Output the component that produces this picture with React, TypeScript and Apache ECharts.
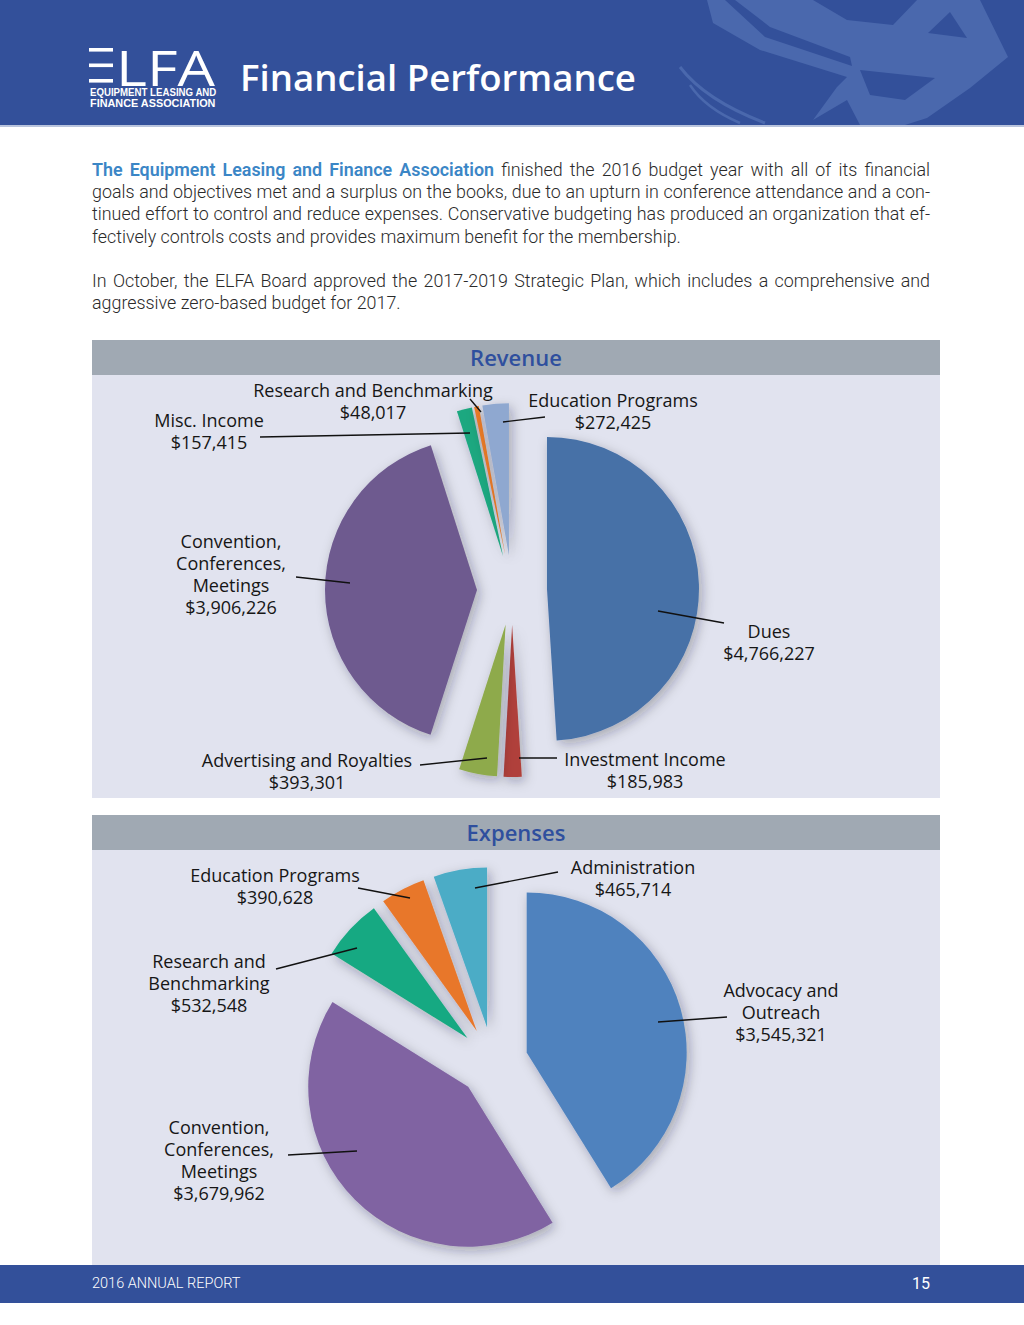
import React, { useEffect, useRef } from "react";
import * as echarts from "echarts";

const W = 1024;
const H = 1325;

// ---------- Revenue data ----------
const revenueCategories = [
  "Dues",
  "Investment Income",
  "Advertising and Royalties",
  "Convention, Conferences, Meetings",
  "Misc. Income",
  "Research and Benchmarking",
  "Education Programs",
];
const revenueLabelNames = [
  "Dues",
  "Investment Income",
  "Advertising and Royalties",
  "Convention,\nConferences,\nMeetings",
  "Misc. Income",
  "Research and Benchmarking",
  "Education Programs",
];
const revenueValues = [4766227, 185983, 393301, 3906226, 157415, 48017, 272425];
const revenueColors = ["#4771a7", "#b0403a", "#8eaa4c", "#6e5a8f", "#1ca880", "#e87a28", "#8fa8d0"];

// ---------- Expenses data ----------
const expenseCategories = [
  "Advocacy and Outreach",
  "Convention, Conferences, Meetings",
  "Research and Benchmarking",
  "Education Programs",
  "Administration",
];
const expenseLabelNames = [
  "Advocacy and\nOutreach",
  "Convention,\nConferences,\nMeetings",
  "Research and\nBenchmarking",
  "Education Programs",
  "Administration",
];
const expenseValues = [3545321, 3679962, 532548, 390628, 465714];
const expenseColors = ["#5082be", "#8064a2", "#19a982", "#e8772a", "#4bacc6"];

// ---------- Label placement (layout only) ----------
const revenueLabelAt = [[769, 642], [645, 770], [307, 771], [231, 574], [209, 431], [373, 401], [613, 411]];
const revenueLeaders = [
  [[658, 611], [724, 623]],
  [[519, 758], [557, 758]],
  [[487, 758], [420, 765]],
  [[350, 583], [296, 577]],
  [[470, 433], [260, 437]],
  [[481, 412], [470, 399]],
  [[503, 422], [545, 417]],
];
const expenseLabelAt = [[781, 1012], [219, 1160], [209, 983], [275, 886], [633, 878]];
const expenseLeaders = [
  [[658, 1022], [727, 1017]],
  [[357, 1151], [288, 1155]],
  [[357, 948], [276, 969]],
  [[410, 898], [358, 888]],
  [[475, 888], [558, 872]],
];

// ---------- Page text ----------
const introBold = "The Equipment Leasing and Finance Association";
const paragraphLines = [
  { text: "finished the 2016 budget year with all of its financial", justify: true, bold: true },
  { text: "goals and objectives met and a surplus on the books, due to an upturn in conference attendance and a con-", justify: true, bold: false },
  { text: "tinued effort to control and reduce expenses. Conservative budgeting has produced an organization that ef-", justify: true, bold: false },
  { text: "fectively controls costs and provides maximum benefit for the membership.", justify: false, bold: false },
  { text: "In October, the ELFA Board approved the 2017-2019 Strategic Plan, which includes a comprehensive and", justify: true, bold: false },
  { text: "aggressive zero-based budget for 2017.", justify: false, bold: false },
];
const paragraphY = [169, 191, 213, 236, 280, 302];

const fmt = (v: number) => "$" + v.toLocaleString("en-US");

function buildOption() {
  const canvas = document.createElement("canvas");
  const ctx = canvas.getContext("2d")!;
  const measure = (t: string, font: string) => {
    ctx.font = font;
    return ctx.measureText(t).width;
  };

  const headerBg = "#33509a";
  const swoosh = "#4a68ad";
  const graphic: any[] = [];
  const txt = (x: number, y: number, text: string, font: string, fill: string, align = "left", extra: any = {}) => ({
    type: "text",
    x,
    y,
    ...extra,
    style: { text, font, fill, align, verticalAlign: "middle", textAlign: align, textVerticalAlign: "middle", ...(extra.style || {}) },
  });

  // Header band
  graphic.push({ type: "rect", shape: { x: 0, y: 0, width: W, height: 125 }, style: { fill: headerBg } });
  graphic.push({
    type: "polygon",
    shape: {
      points: [[707, 0], [813, 0], [847, 20], [893, 25], [917, 0], [980, 0], [1008, 57], [970, 88], [927, 118], [905, 125], [860, 125], [847, 100], [813, 120], [837, 87], [847, 77], [760, 50], [713, 23]],
    },
    style: { fill: swoosh },
  });
  graphic.push({ type: "polygon", shape: { points: [[725, 0], [735, 0], [770, 27], [850, 57], [852, 66], [765, 37]] }, style: { fill: headerBg } });
  graphic.push({ type: "polygon", shape: { points: [[928, 33], [950, 12], [967, 38]] }, style: { fill: headerBg } });
  graphic.push({ type: "polygon", shape: { points: [[860, 70], [935, 78], [905, 100], [870, 95]] }, style: { fill: headerBg } });
  graphic.push({ type: "bezierCurve", shape: { x1: 680, y1: 67, x2: 765, y2: 123, cpx1: 705, cpy1: 100 }, style: { stroke: swoosh, lineWidth: 3, fill: null } });
  graphic.push({ type: "bezierCurve", shape: { x1: 690, y1: 85, x2: 740, y2: 123, cpx1: 705, cpy1: 108 }, style: { stroke: swoosh, lineWidth: 2.5, fill: null } });
  graphic.push({ type: "rect", shape: { x: 0, y: 125, width: W, height: 2 }, style: { fill: "#b9c4dd" } });

  // Logo
  [48, 63.5, 79].forEach((y) => {
    graphic.push({ type: "rect", shape: { x: 89, y, width: 24, height: 3.6 }, style: { fill: "#ffffff" } });
  });
  const lfaFont = "400 50px 'Open Sans'";
  graphic.push(txt(116, 66, "LFA", lfaFont, "#ffffff", "left", { scaleX: 99 / measure("LFA", lfaFont) }));
  const subFont = "bold 10.5px 'Liberation Sans'";
  ["EQUIPMENT LEASING AND", "FINANCE ASSOCIATION"].forEach((t, i) => {
    const target = i === 0 ? 127 : 126;
    graphic.push(txt(90, 92 + i * 11, t, subFont, "#ffffff", "left", { scaleX: target / measure(t, subFont) }));
  });
  const titleText = "Financial Performance";
  const titleFs = (38 * 396) / measure(titleText, "600 38px 'Open Sans'");
  graphic.push(txt(240, 77, titleText, `600 ${titleFs.toFixed(1)}px 'Open Sans'`, "#ffffff"));

  // Paragraphs (justified, word by word)
  const family = "Roboto";
  const left = 92;
  const right = 930;
  const lineW = right - left;
  let fs = 18;
  const tokenize = (i: number) => {
    const l = paragraphLines[i];
    const toks: { w: string; b: boolean }[] = [];
    if (l.bold) introBold.split(" ").forEach((w) => toks.push({ w, b: true }));
    l.text.split(" ").forEach((w) => toks.push({ w, b: false }));
    return toks;
  };
  const fontOf = (b: boolean, size: number) => (b ? `600 ${size}px ${family}` : `300 ${size}px ${family}`);
  let maxW = 0;
  paragraphLines.forEach((_, i) => {
    const toks = tokenize(i);
    const sp = measure(" ", fontOf(false, fs));
    const w = toks.reduce((s, t) => s + measure(t.w, fontOf(t.b, fs)), 0) + sp * (toks.length - 1);
    maxW = Math.max(maxW, w);
  });
  if (maxW > lineW - 4) fs = (fs * (lineW - 4)) / maxW;
  paragraphLines.forEach((l, i) => {
    const toks = tokenize(i);
    const widths = toks.map((t) => measure(t.w, fontOf(t.b, fs)));
    const sum = widths.reduce((a, b) => a + b, 0);
    const gap = l.justify ? (lineW - sum) / (toks.length - 1) : measure(" ", fontOf(false, fs));
    let x = left;
    toks.forEach((t, k) => {
      graphic.push(txt(x, paragraphY[i], t.w, fontOf(t.b, fs), t.b ? "#3b86c6" : "#2a2a2a"));
      x += widths[k] + gap;
    });
  });

  // Panels
  const panelHead = "#a0a9b3";
  const panelBody = "#e1e3ef";
  const panel = (top: number, bodyH: number, title: string) => {
    graphic.push({ type: "rect", shape: { x: 92, y: top, width: 848, height: 35 }, style: { fill: panelHead } });
    graphic.push({ type: "rect", shape: { x: 92, y: top + 35, width: 848, height: bodyH }, style: { fill: panelBody } });
    graphic.push(txt(516, top + 16.5, title, "600 22px 'Open Sans'", "#2f4f9e", "center"));
  };
  panel(340, 423, "Revenue");
  panel(815, 415, "Expenses");

  // Footer
  graphic.push({ type: "rect", shape: { x: 0, y: 1265, width: W, height: 38 }, style: { fill: headerBg } });
  const footText = "2016 ANNUAL REPORT";
  const footFs = (15 * 148) / measure(footText, `300 15px ${family}`);
  graphic.push(txt(92, 1283, footText, `300 ${footFs.toFixed(1)}px ${family}`, "#ffffff"));
  graphic.push(txt(930, 1283, "15", `400 16px ${family}`, "#ffffff", "right"));

  // Slice labels and leader lines (text built from the data arrays)
  const labelFont = "400 18px 'Open Sans'";
  const addLabels = (labels: string[], values: number[], at: number[][], leaders: number[][][]) => {
    labels.forEach((name, i) => {
      const [a, b] = leaders[i];
      graphic.push({
        type: "line",
        z: 10,
        shape: { x1: a[0], y1: a[1], x2: b[0], y2: b[1] },
        style: { stroke: "#111111", lineWidth: 1.4 },
      });
      graphic.push(
        txt(at[i][0], at[i][1], `${name}\n${fmt(values[i])}`, labelFont, "#161616", "center", {
          z: 10,
          style: { lineHeight: 22 },
        })
      );
    });
  };
  addLabels(revenueLabelNames, revenueValues, revenueLabelAt, revenueLeaders);
  addLabels(expenseLabelNames, expenseValues, expenseLabelAt, expenseLeaders);

  const pieSeries = (name: string, cats: string[], values: number[], colors: string[], center: number[], radius: number) => ({
    type: "pie",
    name,
    center,
    radius,
    startAngle: 90,
    clockwise: true,
    selectedMode: "multiple",
    selectedOffset: 35,
    avoidLabelOverlap: false,
    emphasis: { disabled: true },
    z: 3,
    itemStyle: { shadowBlur: 12, shadowColor: "rgba(20,20,40,0.3)", shadowOffsetX: 3, shadowOffsetY: 4 },
    label: { show: false },
    labelLine: { show: false },
    data: cats.map((c, i) => ({ name: c, value: values[i], selected: true, itemStyle: { color: colors[i] } })),
  });

  return {
    animation: false,
    graphic: { elements: graphic },
    series: [
      pieSeries("Revenue", revenueCategories, revenueValues, revenueColors, [512, 590], 152),
      pieSeries("Expenses", expenseCategories, expenseValues, expenseColors, [493, 1062], 160),
    ],
  };
}

export default function App() {
  const ref = useRef<HTMLDivElement>(null);
  useEffect(() => {
    document.body.style.margin = "0";
    const chart = echarts.init(ref.current!, null, { renderer: "svg", width: W, height: H });
    chart.setOption(buildOption() as any);
    return () => chart.dispose();
  }, []);
  return <div ref={ref} style={{ width: W, height: H }} />;
}
